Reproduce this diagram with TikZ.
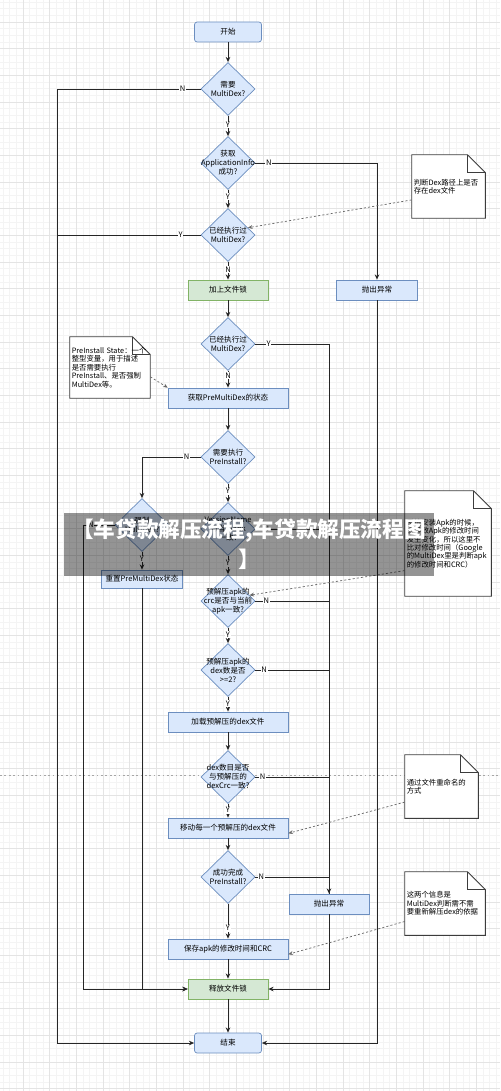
\documentclass[tikz,border=0pt]{standalone}
\usepackage{fontspec}
\setmainfont{Noto Sans CJK SC}
\usetikzlibrary{shapes.geometric,arrows.meta}
\definecolor{boxblue}{RGB}{218,232,252}
\definecolor{edgeblue}{RGB}{108,142,191}
\definecolor{boxgreen}{RGB}{213,232,212}
\definecolor{edgegreen}{RGB}{130,179,102}
\definecolor{gridfine}{RGB}{244,244,244}
\definecolor{gridbold}{RGB}{228,228,228}
\definecolor{notegray}{RGB}{60,60,60}
\pgfdeclarelayer{paper}
\pgfdeclarelayer{notes}
\pgfsetlayers{paper,notes,main}

\begin{document}
\begin{tikzpicture}[x=0.02cm,y=-0.02cm,
  every node/.style={font=\fontsize{4.3}{5.1}\selectfont},
  terminal/.style={rectangle,rounded corners=1.5pt,draw=edgeblue,fill=boxblue,minimum width=1.34cm,minimum height=0.4cm,inner sep=0pt},
  procbox/.style={rectangle,draw=edgeblue,fill=boxblue,minimum width=2.4cm,minimum height=0.4cm,inner sep=0pt},
  errbox/.style={procbox,minimum width=1.62cm},
  lockbox/.style={rectangle,draw=edgegreen,fill=boxgreen,minimum width=1.6cm,minimum height=0.4cm,inner sep=0pt},
  decision/.style={diamond,draw=edgeblue,fill=boxblue,minimum width=1.08cm,minimum height=1.06cm,inner sep=0pt},
  asks/.style={align=center,inner sep=0pt},
  notetext/.style={align=left,inner xsep=1pt,inner ysep=0pt,font=\fontsize{4.2}{4.75}\selectfont},
  notepaper/.style={draw=notegray,fill=white,line width=0.45pt},
  flow/.style={draw=black!85,line width=0.5pt,-{Stealth[length=3pt,width=2.6pt]}},
  railline/.style={draw=black!85,line width=0.5pt},
  yn/.style={fill=white,inner sep=0.4pt},
  hint/.style={draw=black!60,line width=0.4pt,dash pattern=on 1.2pt off 1.2pt,-{Stealth[length=2.6pt,width=2.2pt]}},
  gridminor/.style={draw=gridfine,line width=0.3pt},
  gridmajor/.style={draw=gridbold,line width=0.4pt},
]
\useasboundingbox (0,0) rectangle (500,1091);

\begin{pgfonlayer}{paper}
  \fill[white] (0,0) rectangle (500,1091);
  \foreach \i in {0,...,74} \draw[gridminor] ({3+\i*6.6667},0) -- ({3+\i*6.6667},1091);
  \foreach \i in {0,...,163} \draw[gridminor] (0,{2+\i*6.6667}) -- (500,{2+\i*6.6667});
  \foreach \i in {0,...,17} \draw[gridmajor] ({23+\i*26.667},0) -- ({23+\i*26.667},1091);
  \foreach \i in {0,...,40} \draw[gridmajor] (0,{22+\i*26.667}) -- (500,{22+\i*26.667});
  \draw[draw=black!35,line width=0.4pt,dash pattern=on 1pt off 1.5pt] (0,775) -- (500,775);
\end{pgfonlayer}

\node[terminal] (start) at (228,32) {开始};
\node[decision,label={[asks]center:{需要\\MultiDex?}}] (d1) at (228,89) {};
\node[decision,label={[asks]center:{获取\\ApplicationInfo\\成功?}}] (d2) at (228,163) {};
\node[decision,label={[asks]center:{已经执行过\\MultiDex?}}] (d3) at (228,235) {};
\node[lockbox] (lock) at (228,290) {加上文件锁};
\node[errbox] (err1) at (377,290) {抛出异常};
\node[decision,label={[asks]center:{已经执行过\\MultiDex?}}] (d4) at (228,344) {};
\node[procbox] (getpre) at (228,398) {获取PreMultiDex的状态};
\node[decision,label={[asks]center:{需要执行\\PreInstall?}}] (d5) at (228,457) {};
\node[decision,label={[asks]center:{强制\\MultiDex?}}] (dforce) at (142,525) {};
\node[decision,label={[asks]center:{VersionName\\与当前apk\\一致?}}] (dver) at (228,529) {};
\node[errbox,minimum height=0.36cm] (reset) at (142,579) {重置PreMultiDex状态};
\node[decision,label={[asks]center:{预解压apk的\\crc是否与当前\\apk一致?}}] (dcrc) at (228,601) {};
\node[decision,label={[asks]center:{预解压apk的\\dex数是否\\>=2?}}] (dnum) at (228,670) {};
\node[procbox] (load) at (228,722) {加载预解压的dex文件};
\node[decision,label={[asks]center:{dex数目是否\\与预解压的\\dexCrc一致?}}] (dcrc2) at (228,777) {};
\node[procbox] (move) at (228,828) {移动每一个预解压的dex文件};
\node[decision,label={[asks]center:{成功完成\\PreInstall?}}] (dok) at (228,877) {};
\node[errbox,minimum width=1.6cm] (err2) at (329,904) {抛出异常};
\node[procbox] (save) at (228,949) {保存apk的修改时间和CRC};
\node[lockbox] (unlock) at (228,989) {释放文件锁};
\node[terminal] (end) at (228,1043) {结束};

\node[notetext,text width=1.39cm,minimum height=1.26cm] (note1) at (448.5,186.5) {判断Dex路径上是否\\存在dex文件};
\node[notetext,text width=1.53cm,minimum height=1.22cm] (note2) at (110,367.5) {PreInstall State：一个\\整型变量，用于描述\\是否需要执行\\PreInstall、是否强制\\MultiDex等。};
\node[notetext,text width=1.65cm,minimum height=2.1cm] (note3) at (448,543.5) {系统安装Apk的时候，\\会导致Apk的修改时间\\发生变化，所以这里不\\比对修改时间（Google\\的MultiDex里是判断apk\\的修改时间和CRC）};
\node[notetext,text width=1.39cm,minimum height=1.26cm] (note4) at (441.5,786.5) {通过文件重命名的\\方式};
\node[notetext,text width=1.53cm,minimum height=1.26cm] (note5) at (445,903.5) {这两个信息是\\MultiDex判断需不需\\要重新解压dex的依据};

\begin{pgfonlayer}{notes}
  \foreach \n in {note1,note2,note3,note4,note5}{
    \draw[notepaper] (\n.north west) -- ([shift={(-18,0)}]\n.north east) -- ([shift={(0,18)}]\n.north east) -- (\n.south east) -- (\n.south west) -- cycle;
    \draw[notepaper,fill=none] ([shift={(-18,0)}]\n.north east) -- ++(0,18) -- ([shift={(0,18)}]\n.north east);
  }
\end{pgfonlayer}

\coordinate (leftrail) at (57,89);
\coordinate (innerrail) at (83,525);
\coordinate (rightrail) at (329,344);

\draw[flow] (start) -- (d1);
\draw[flow] (d1) -- node[yn,pos=0.45]{Y} (d2);
\draw[flow] (d2) -- node[yn,pos=0.35]{Y} (d3);
\draw[flow] (d3) -- node[yn,pos=0.45]{N} (lock);
\draw[flow] (lock) -- (d4);
\draw[flow] (d4) -- node[yn,pos=0.3]{N} (getpre);
\draw[flow] (getpre) -- (d5);
\draw[flow] (d5) -- node[yn,pos=0.4]{Y} (dver);
\draw[flow] (dforce) -- node[yn,pos=0.4]{Y} (reset);
\draw[flow] (dver) -- node[yn,pos=0.4]{Y} (dcrc);
\draw[flow] (dcrc) -- node[yn,pos=0.45]{Y} (dnum);
\draw[flow] (dnum) -- node[yn,pos=0.45]{Y} (load);
\draw[flow] (load) -- (dcrc2);
\draw[flow] (dcrc2) -- node[yn,pos=0.45]{Y} (move);
\draw[flow] (move) -- (dok);
\draw[flow] (dok) -- node[yn,pos=0.7]{Y} (save);
\draw[flow] (save) -- (unlock);
\draw[flow] (unlock) -- (end);

\draw[flow] (d1.west) -- node[yn,pos=0.125]{N} (leftrail) |- (end.west);
\draw[railline] (d3.west) -- node[yn,pos=0.14]{Y} (d3.west -| leftrail);
\draw[flow] (d2.east) -- node[yn,pos=0.11]{N} (d2.east -| err1.north) -- (err1.north);
\draw[flow] (err1.south) |- (end.east);

\draw[flow] (d5.west) -- node[yn,pos=0.24]{N} (d5.west -| dforce.north) -- (dforce.north);
\draw[flow] (dforce.west) -- node[yn,pos=0.75]{N} (innerrail) |- (unlock.west);
\draw[flow] (reset.south) |- (unlock.west);

\draw[railline] (d4.east) -- node[yn,pos=0.18]{Y} (rightrail) -- (err2.north);
\draw[railline] (dver.east) -- node[yn,pos=0.15]{N} (dver.east -| rightrail);
\draw[railline] (dcrc.east) -- node[yn,pos=0.15]{N} (dcrc.east -| rightrail);
\draw[railline] (dnum.east) -- node[yn,pos=0.12]{N} (dnum.east -| rightrail);
\draw[railline] (dcrc2.east) -- node[yn,pos=0.1]{N} (dcrc2.east -| rightrail);
\draw[flow] (dok.east) -- node[yn,pos=0.08]{N} (dok.east -| rightrail) -- (err2.north);
\draw[flow] (err2.south) |- (unlock.east);

\draw[hint] (note1.200) -- (d3.20);
\draw[hint] (note2.-13) -- (getpre.north west);
\draw[hint] (note3.212) -- (dcrc.15);
\draw[hint] (note4.203) -- (move.-5);
\draw[hint] (note5.204) -- (save.-5);

\node[rectangle,fill=black,fill opacity=0.42,text=white,text opacity=1,minimum width=7.4cm,minimum height=1.22cm,align=center,font=\fontsize{12.3}{17}\selectfont\bfseries] (banner) at (249,544.5) {【车贷款解压流程,车贷款解压流程图\\】};
\end{tikzpicture}
\end{document}
